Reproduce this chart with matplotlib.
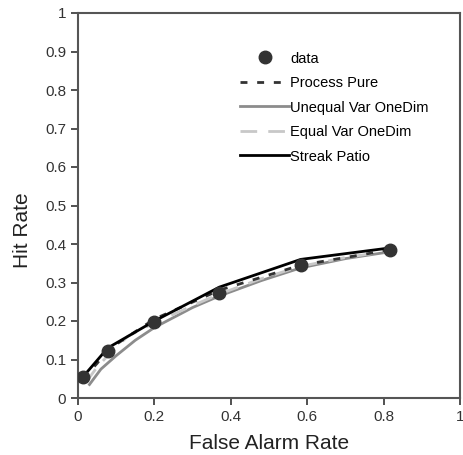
import matplotlib.pyplot as plt

plt.rcParams['font.family'] = ['Liberation Sans', 'DejaVu Sans']

# observed points
far_data = [0.013, 0.078, 0.198, 0.37, 0.583, 0.818]
hit_data = [0.055, 0.122, 0.198, 0.273, 0.346, 0.384]

# model predictions
far_pp = [0.013, 0.05, 0.078, 0.2, 0.37, 0.583, 0.818]
hit_pp = [0.05, 0.09, 0.125, 0.205, 0.28, 0.345, 0.385]

far_uv = [0.03, 0.06, 0.1, 0.15, 0.2, 0.3, 0.37, 0.48, 0.583, 0.7, 0.818]
hit_uv = [0.035, 0.075, 0.11, 0.15, 0.183, 0.235, 0.265, 0.305, 0.338, 0.362, 0.38]

far_ev = [0.02, 0.05, 0.078, 0.13, 0.2, 0.3, 0.37, 0.48, 0.583, 0.7, 0.818]
hit_ev = [0.04, 0.08, 0.11, 0.16, 0.195, 0.24, 0.27, 0.31, 0.342, 0.365, 0.382]

far_sp = [0.013, 0.078, 0.2, 0.37, 0.583, 0.818]
hit_sp = [0.055, 0.13, 0.2, 0.288, 0.36, 0.39]

fig = plt.figure(figsize=(4.64, 4.55), dpi=100)
ax = fig.add_axes([78 / 464, 57 / 455, 382 / 464, 385 / 455])

ax.plot(far_uv, hit_uv, color='#8c8c8c', lw=2, label='Unequal Var OneDim')
ax.plot(far_ev, hit_ev, color='#c8c8c8', lw=2, dashes=(6, 4), label='Equal Var OneDim')
ax.plot(far_pp, hit_pp, color='#333333', lw=2, dashes=(2.5, 3.5), label='Process Pure')
ax.plot(far_sp, hit_sp, color='black', lw=2, label='Streak Patio')
ax.plot(far_data, hit_data, 'o', color='#333333', ms=9, label='data', zorder=5)

h, l = ax.get_legend_handles_labels()
order = [4, 2, 0, 1, 3]
ax.legend([h[i] for i in order], [l[i] for i in order], frameon=False,
          loc='upper left', bbox_to_anchor=(0.41, 0.915), fontsize=10.5,
          handlelength=3.3, handletextpad=0.1, labelspacing=0.72,
          borderaxespad=0)

ax.set_xlim(0, 1)
ax.set_ylim(0, 1)
ax.set_xticks([0, 0.2, 0.4, 0.6, 0.8, 1])
ax.set_xticklabels(['0', '0.2', '0.4', '0.6', '0.8', '1'])
ax.set_yticks([i / 10 for i in range(11)])
ax.set_yticklabels(['0'] + [f'{i / 10:.1f}' for i in range(1, 10)] + ['1'])
ax.tick_params(labelsize=11, colors='#333333', length=5, width=1.2)
for s in ax.spines.values():
    s.set_color('#555555')
    s.set_linewidth(1.5)

ax.set_xlabel('False Alarm Rate', fontsize=15, color='#222222', labelpad=7)
ax.set_ylabel('Hit Rate', fontsize=15, color='#222222')
ax.yaxis.set_label_coords(-0.12, 0.435)

fig.savefig('out.png', dpi=100)
